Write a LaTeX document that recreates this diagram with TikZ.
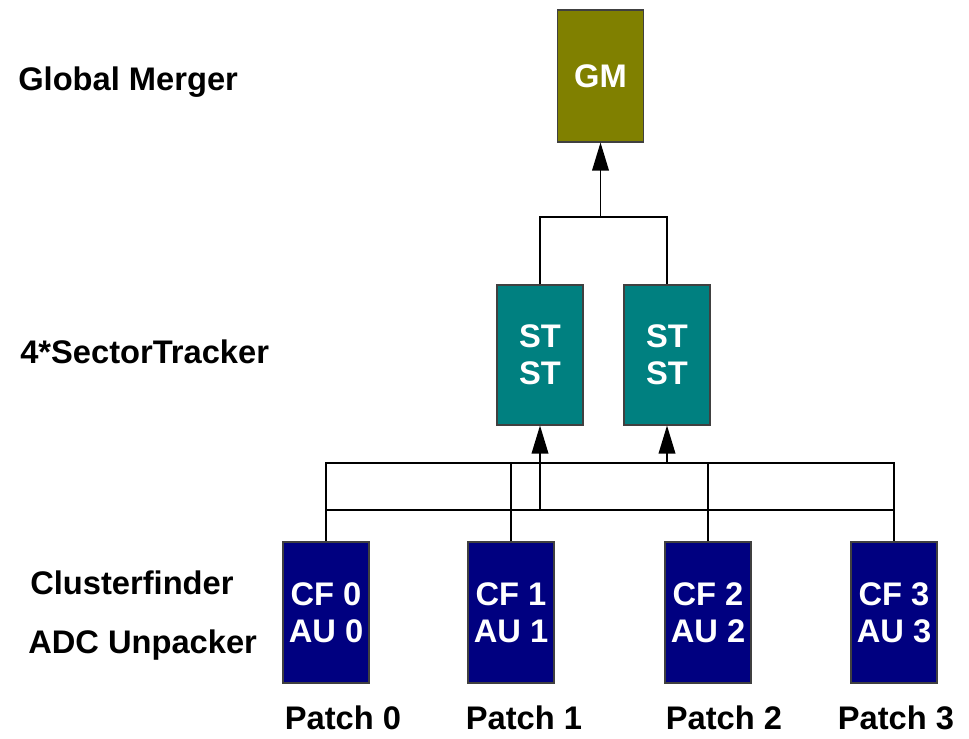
\documentclass[tikz,border=0pt]{standalone}
\usepackage{fontspec}
\setmainfont{Liberation Sans}
\usetikzlibrary{arrows.meta}
\definecolor{gmcol}{HTML}{808000}
\definecolor{stcol}{HTML}{008080}
\definecolor{cfcol}{HTML}{000080}
\definecolor{edgecol}{HTML}{404040}
\tikzset{
  big/.style={font=\fontsize{24.5}{27.5}\selectfont\bfseries},
  box/.style={draw=edgecol, line width=0.8pt, text=white, big, align=center, inner sep=0pt, minimum width=64.5pt},
  gmbox/.style={box, fill=gmcol, minimum height=99pt},
  stbox/.style={box, fill=stcol, minimum height=105pt},
  cfbox/.style={box, fill=cfcol, minimum height=105.75pt},
  lbl/.style={big, text=black, inner sep=0pt},
  wire/.style={draw=black, line width=1pt},
  arr/.style={wire, -{Triangle[width=12.5pt,length=21pt]}}
}
\begin{document}
\begin{tikzpicture}[x=0.75pt,y=-0.75pt]
\useasboundingbox (0,0) rectangle (969,738);
% boxes
\node[gmbox] (gm) at (600.5,76) {GM};
\node[stbox] (st1) at (540,355) {ST\\ST};
\node[stbox] (st2) at (667,355) {ST\\ST};
\node[cfbox] (cf0) at (326,612.5) {CF 0\\AU 0};
\node[cfbox] (cf1) at (511,612.5) {CF 1\\AU 1};
\node[cfbox] (cf2) at (708,612.5) {CF 2\\AU 2};
\node[cfbox] (cf3) at (894,612.5) {CF 3\\AU 3};
% labels
\node[lbl, anchor=west] (l1) at (18,82) {Global Merger};
\node[lbl, anchor=west] (l2) at (20,352) {4*SectorTracker};
\node[lbl, anchor=west] (l3) at (30,583) {Clusterfinder};
\node[lbl, anchor=west] (l4) at (28,645) {ADC Unpacker};
\node[lbl] (p0) at (343,718) {Patch 0};
\node[lbl] (p1) at (524,718) {Patch 1};
\node[lbl] (p2) at (724,718) {Patch 2};
\node[lbl] (p3) at (896,718) {Patch 3};
% upper connectors
\coordinate (gj) at (600.5,217);
\coordinate (bt) at (0,463);
\coordinate (bb) at (0,510);
\draw[wire] (st1.north) |- (gj) -| (st2.north);
\draw[arr] (gj) -- (gm.south);
% lower connectors
\draw[wire] (cf0.north) -- (cf0.north |- bt) -- (cf3.north |- bt) -- (cf3.north);
\draw[wire] (cf0.north |- bb) -- (cf3.north |- bb);
\draw[wire] (cf1.north) -- (cf1.north |- bt);
\draw[wire] (cf2.north) -- (cf2.north |- bt);
\draw[arr] (st1.south |- bb) -- (st1.south);
\draw[arr] (st2.south |- bt) -- (st2.south);
\end{tikzpicture}
\end{document}
